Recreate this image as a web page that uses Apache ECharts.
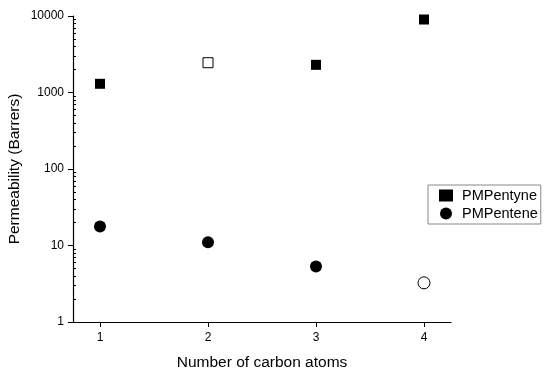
<!DOCTYPE html>
<html>
<head>
<meta charset="utf-8">
<script src="https://cdn.jsdelivr.net/npm/echarts@6/dist/echarts.min.js"></script>
<style>
  html, body { margin: 0; padding: 0; background: #fff; }
  #chart { width: 550px; height: 376px; }
</style>
</head>
<body>
<div id="chart"></div>
<script>
// carbon atoms on x
var carbons = [1, 2, 3, 4];
var xTicks = [1, 2, 3, 4];

// permeability values (Barrers)
var pentyne = [1300, 2450, 2300, 9000];
var pentene = [17.7, 11, 5.3, 3.25];
// open (hollow) markers in the original
var pentyneOpen = [false, true, false, false];
var penteneOpen = [false, false, false, true];

// minor ticks 2..9 per decade, in log10 space for the overlay axis
var minorTicks = [];
for (var e = 0; e < 4; e++) {
  for (var m = 2; m <= 9; m++) {
    minorTicks.push(e + Math.log10(m));
  }
}

function points(vals, open) {
  return carbons.map(function (c, i) {
    var p = { value: [c, vals[i]] };
    if (open[i]) {
      p.itemStyle = { color: '#fff', borderColor: '#000', borderWidth: 1 };
    }
    return p;
  });
}

var font = 'Liberation Sans, Arial, sans-serif';
var chart = echarts.init(document.getElementById('chart'));

chart.setOption({
  animation: false,
  grid: { left: 73, right: 99, top: 16, bottom: 54, outerBoundsMode: 'none' },
  legend: {
    orient: 'vertical',
    left: 428,
    top: 185,
    borderColor: '#888',
    borderWidth: 1,
    padding: [3, 3, 3, 11],
    itemGap: 3,
    itemWidth: 14,
    itemHeight: 12,
    textStyle: { fontFamily: font, fontSize: 14.5, color: '#000', padding: [0, 0, 0, 4] },
    data: [
      { name: 'PMPentyne', icon: 'rect' },
      { name: 'PMPentene', icon: 'circle' }
    ]
  },
  xAxis: {
    type: 'value',
    min: 0.75,
    max: 4.25,
    name: 'Number of carbon atoms',
    nameLocation: 'middle',
    nameGap: 33,
    nameMoveOverlap: false,
    nameTextStyle: { fontFamily: font, fontSize: 15.5, color: '#000' },
    splitLine: { show: false },
    axisLine: { show: true, lineStyle: { color: '#000', width: 1.2 } },
    axisTick: { show: true, customValues: xTicks, length: 5, lineStyle: { color: '#000' } },
    axisLabel: { customValues: xTicks, fontFamily: font, fontSize: 12, color: '#000', margin: 10 }
  },
  yAxis: [{
    type: 'log',
    min: 1,
    max: 10000,
    name: 'Permeability (Barrers)',
    nameLocation: 'middle',
    nameGap: 50,
    nameMoveOverlap: false,
    nameTextStyle: { fontFamily: font, fontSize: 15.5, color: '#000' },
    splitLine: { show: false },
    axisLine: { show: true, lineStyle: { color: '#000', width: 1.2 } },
    axisTick: { show: true, length: 5, lineStyle: { color: '#000' } },
    axisLabel: {
      fontFamily: font, fontSize: 12, color: '#000', margin: 9,
      formatter: function (v) { return String(v); }
    }
  }, {
    type: 'value',
    min: 0,
    max: 4,
    position: 'left',
    offset: 0,
    splitLine: { show: false },
    axisLine: { show: false },
    axisTick: { show: true, inside: true, customValues: minorTicks, length: 3, lineStyle: { color: '#000', width: 1 } },
    axisLabel: { show: false }
  }],
  series: [{
    name: 'PMPentyne',
    type: 'scatter',
    symbol: 'rect',
    symbolSize: 10,
    itemStyle: { color: '#000', opacity: 1 },
    data: points(pentyne, pentyneOpen)
  }, {
    name: 'PMPentene',
    type: 'scatter',
    symbol: 'circle',
    symbolSize: 12,
    itemStyle: { color: '#000', opacity: 1 },
    data: points(pentene, penteneOpen)
  }]
});
</script>
</body>
</html>
